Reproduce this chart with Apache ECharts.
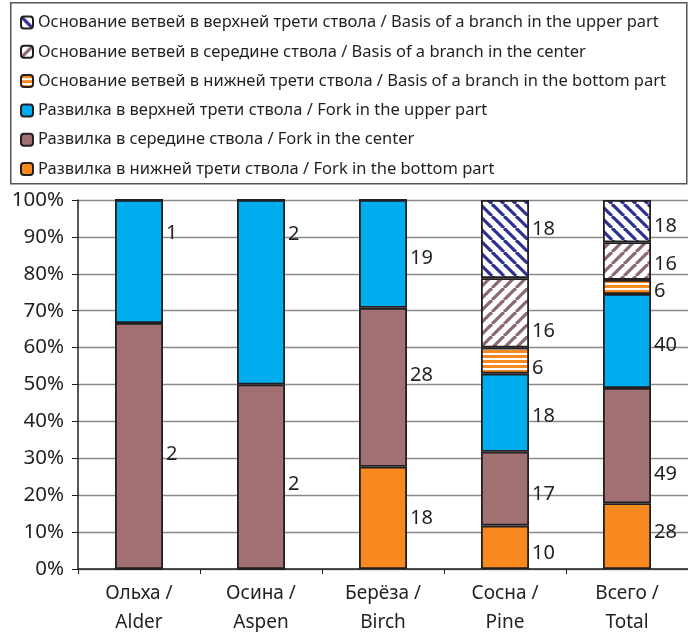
<!DOCTYPE html>
<html>
<head>
<meta charset="utf-8">
<script src="https://cdn.jsdelivr.net/npm/echarts@6/dist/echarts.min.js"></script>
<style>html,body{margin:0;padding:0;background:#fff}#c{width:688px;height:632px}</style>
</head>
<body>
<div id="c"></div>
<script>
const categories = ['Ольха /\nAlder', 'Осина /\nAspen', 'Берёза /\nBirch', 'Сосна /\nPine', 'Всего /\nTotal'];
const seriesNames = [
  'Развилка в нижней трети ствола / Fork in the bottom part',
  'Развилка в середине ствола / Fork in the center',
  'Развилка в верхней трети ствола / Fork in the upper part',
  'Основание ветвей в нижней трети ствола / Basis of a branch in the bottom part',
  'Основание ветвей в середине ствола / Basis of a branch in the center',
  'Основание ветвей в верхней трети ствола / Basis of a branch in the upper part'
];
const forkBottom = [0, 0, 18, 10, 28];
const forkCenter = [2, 2, 28, 17, 49];
const forkUpper  = [1, 2, 19, 18, 40];
const baseBottom = [0, 0, 0, 6, 6];
const baseCenter = [0, 0, 0, 16, 16];
const baseUpper  = [0, 0, 0, 18, 18];
const yTicks = [0, 10, 20, 30, 40, 50, 60, 70, 80, 90, 100];

// label vertical nudges (px), styling only
const labelNudge = [
  [0, 0, 0, 6, -4],
  [8, 8, -12, 6, 29],
  [-28, -58, 4, 4, 4],
  [0, 0, 0, 8, 4],
  [0, 0, 0, 18, 3],
  [0, 0, 0, -10, 5]
];

const values = [forkBottom, forkCenter, forkUpper, baseBottom, baseCenter, baseUpper];
const totals = categories.map((_, i) => values.reduce((s, arr) => s + arr[i], 0));

function pattern(kind) {
  const cv = document.createElement('canvas');
  const ctx = cv.getContext('2d');
  if (kind === 'h') {
    cv.width = 6; cv.height = 5;
    ctx.fillStyle = '#fff'; ctx.fillRect(0, 0, 6, 5);
    ctx.fillStyle = '#F7891F'; ctx.fillRect(0, 0, 6, 3);
    return cv;
  }
  const s = 12;
  cv.width = s; cv.height = s;
  ctx.fillStyle = '#fff'; ctx.fillRect(0, 0, s, s);
  ctx.strokeStyle = kind === 'navy' ? '#2E3192' : '#8C6874';
  ctx.lineWidth = 3.2;
  for (let k = -1; k <= 1; k++) {
    ctx.beginPath();
    if (kind === 'navy') { ctx.moveTo(k * s, 0); ctx.lineTo(k * s + s, s); }
    else { ctx.moveTo(k * s, s); ctx.lineTo(k * s + s, 0); }
    ctx.stroke();
  }
  return cv;
}

const fills = [
  '#F7891F',
  '#A07072',
  '#00AEEF',
  { image: pattern('h'), repeat: 'repeat' },
  { image: pattern('brown'), repeat: 'repeat' },
  { image: pattern('navy'), repeat: 'repeat' }
];

const font = 'Noto Sans';
const series = values.map((arr, si) => ({
  name: seriesNames[si],
  type: 'bar',
  stack: 'all',
  barWidth: 48,
  itemStyle: { color: fills[si], borderColor: '#231F20', borderWidth: 1.8 },
  label: {
    show: true,
    position: 'right',
    distance: 3,
    fontFamily: font,
    fontSize: 20,
    color: '#231F20',
    formatter: p => arr[p.dataIndex] ? String(arr[p.dataIndex]) : ''
  },
  data: arr.map((v, i) => ({
    value: v / totals[i] * 100,
    label: { offset: [0, labelNudge[si][i]] }
  }))
}));

const chart = echarts.init(document.getElementById('c'), null, { renderer: 'canvas' });
chart.setOption({
  animation: false,
  backgroundColor: '#fff',
  graphic: [{
    type: 'rect', left: 10, top: 2, z: -1,
    shape: { width: 676, height: 181 },
    style: { fill: '#fff', stroke: '#555', lineWidth: 1.5 }
  }],
  legend: {
    orient: 'vertical',
    left: 15, top: 8,
    itemWidth: 12, itemHeight: 12,
    itemGap: 10.3,
    data: seriesNames.slice().reverse(),
    textStyle: { fontFamily: font, fontSize: 16.5, lineHeight: 19, color: '#231F20' }
  },
  grid: { left: 78, right: 0, top: 200, bottom: 63, containLabel: false, outerBoundsMode: 'none' },
  xAxis: {
    type: 'category',
    data: categories,
    axisLine: { lineStyle: { color: '#231F20', width: 1.5 } },
    axisTick: { show: true, length: 5, lineStyle: { color: '#231F20' } },
    axisLabel: { fontFamily: font, fontSize: 19, lineHeight: 29, color: '#231F20', margin: 10 }
  },
  yAxis: {
    type: 'value',
    min: yTicks[0], max: yTicks[yTicks.length - 1], interval: 10,
    axisLine: { show: true, lineStyle: { color: '#231F20', width: 1.5 } },
    axisTick: { show: true, length: 6, lineStyle: { color: '#231F20' } },
    axisLabel: { fontFamily: font, fontSize: 20.5, color: '#231F20', margin: 14, formatter: '{value}%' },
    splitLine: { lineStyle: { color: '#8a8a8a', width: 1.3 } }
  },
  series: series
});
</script>
</body>
</html>
